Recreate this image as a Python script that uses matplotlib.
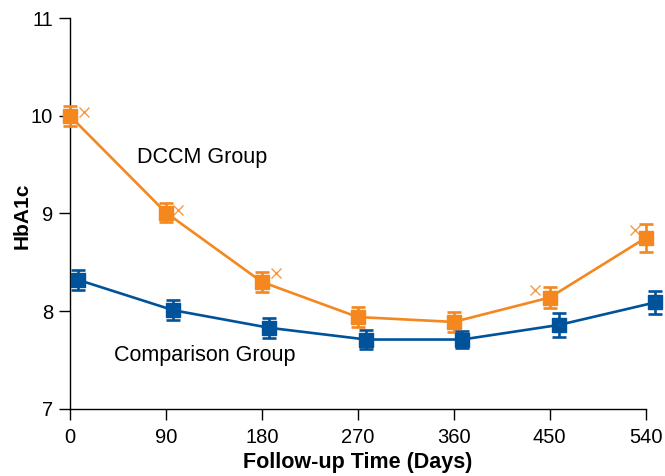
import numpy as np
import matplotlib.pyplot as plt

plt.rcParams['font.family'] = ['Liberation Sans', 'DejaVu Sans']

# data
days = [0, 90, 180, 270, 360, 450, 540]

dccm_mean = [10.00, 9.01, 8.30, 7.94, 7.89, 8.14, 8.75]
dccm_err = [0.10, 0.10, 0.10, 0.10, 0.10, 0.11, 0.14]

comp_days = [8, 97, 187, 278, 368, 459, 549]
comp_mean = [8.32, 8.01, 7.83, 7.71, 7.71, 7.86, 8.09]
comp_err = [0.10, 0.10, 0.10, 0.10, 0.09, 0.12, 0.12]

# small "x" marks next to the DCCM points
x_days = [13, 101, 193, 436, 530]
x_vals = [10.04, 9.04, 8.39, 8.22, 8.83]

orange = '#f5871f'
blue = '#00529b'

fig = plt.figure(figsize=(6.65, 4.76), dpi=100)
ax = fig.add_axes([0.105, 0.141, 0.866, 0.821])

ax.errorbar(days, dccm_mean, yerr=dccm_err, color=orange, marker='s', markersize=9.5,
            linewidth=1.9, elinewidth=1.9, capsize=5, capthick=1.9, clip_on=False, zorder=3)
ax.errorbar(comp_days, comp_mean, yerr=comp_err, color=blue, marker='s', markersize=9.5,
            linewidth=1.9, elinewidth=1.9, capsize=5, capthick=1.9, clip_on=False, zorder=3)
ax.plot(x_days, x_vals, linestyle='none', marker='x', markersize=7, color=orange,
        markeredgewidth=1.0, alpha=0.85, clip_on=False)

ax.text(63, 9.57, 'DCCM Group', fontsize=15.5, ha='left', va='center')
ax.text(41, 7.55, 'Comparison Group', fontsize=15.5, ha='left', va='center')

ax.set_xlim(0, 540)
ax.set_ylim(7, 11)
ax.set_xticks(days)
ax.set_yticks([7, 8, 9, 10, 11])
ax.tick_params(direction='out', length=8, width=1, labelsize=14.5, pad=4)
ax.tick_params(axis='x', pad=6)

for s in ['top', 'right']:
    ax.spines[s].set_visible(False)
for s in ['left', 'bottom']:
    ax.spines[s].set_linewidth(1)

ax.set_xlabel('Follow-up Time (Days)', fontsize=15.5, fontweight='bold', labelpad=3.5)
ax.set_ylabel('HbA1c', fontsize=15, fontweight='bold')
ax.yaxis.set_label_coords(-0.066, 0.495)

fig.savefig('out.png', dpi=100)
